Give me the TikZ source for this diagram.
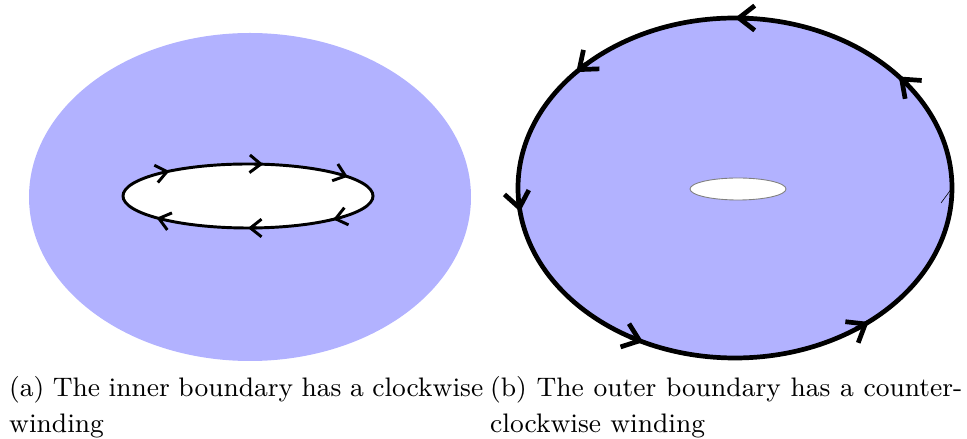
\documentclass[tikz,border=0pt]{standalone}
\usepackage{fontspec}
\usetikzlibrary{arrows.meta}
\tikzset{caption/.style={anchor=north west, inner sep=0pt, align=left, font=\fontsize{9.1pt}{12.24pt}\selectfont}}
\begin{document}
\begin{tikzpicture}[x=0.34pt, y=0.34pt, thick]
	\useasboundingbox (0,0) rectangle (967,439);
	\coordinate (L) at (250,242);
	\coordinate (Lhole) at (248,243);
	\coordinate (R) at (735,251);
	\coordinate (Rhole) at (738,250);
	% (a) hole winding clockwise
	\fill[blue!30] (L) ellipse [x radius=221, y radius=164];
	\draw[line width=1pt, fill=white] (Lhole) ellipse [x radius=125, y radius=32];
	\foreach \a in {37,83,129,223,270,313}
		\draw[line width=1pt, -{Straight Barb[length=3.8pt, width=6pt]}] (Lhole) ++(\a+4:125 and 32) arc[start angle=\a+4, end angle=\a, x radius=125, y radius=32];
	% (b) outer boundary winding counter-clockwise
	\draw[ultra thick, fill=blue!30] (R) ellipse [x radius=217, y radius=170];
	\draw[gray, line width=0.3pt, fill=white] (Rhole) ellipse [x radius=48, y radius=11];
	\foreach \a in {41,90,137,188,245,308}
		\draw[ultra thick, -{Straight Barb[length=5.4pt, width=8.4pt]}] (R) ++(\a-4:217 and 170) arc[start angle=\a-4, end angle=\a, x radius=217, y radius=170];
	\draw[very thin] (R) ++(0:217 and 170) -- ++(-11,-15);
	% captions
	\node[caption] (capA) at (8,64) {\makebox[161.2pt][s]{(a) The inner boundary has a clockwise}\\winding};
	\node[caption] (capB) at (489,64) {\makebox[160.5pt][s]{(b) The outer boundary has a counter-}\\clockwise winding};
\end{tikzpicture}
\end{document}
